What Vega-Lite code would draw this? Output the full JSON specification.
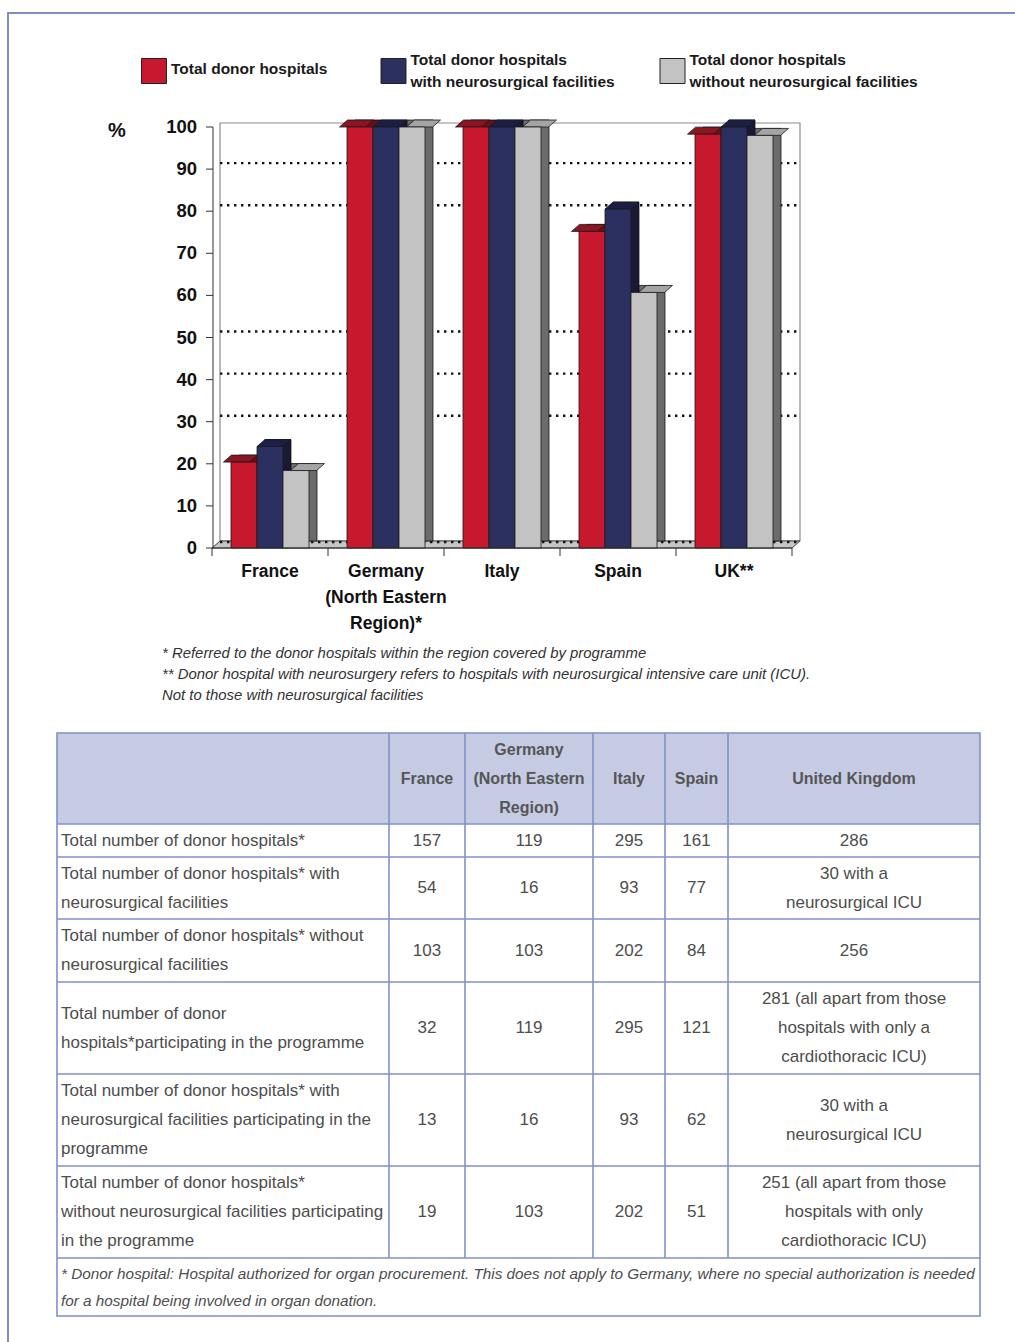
{
  "$schema": "https://vega.github.io/schema/vega-lite/v6.json",
  "description": "Share of donor hospitals participating in the programme, by country, with the underlying hospital counts.",
  "width": 1007,
  "height": 1329,
  "padding": {"left": 8, "top": 13, "right": 0, "bottom": 0},
  "autosize": {"type": "none"},
  "background": "#ffffff",
  "config": {
    "view": {"stroke": "#7d8ec6", "strokeWidth": 2, "strokeDash": [1007, 2336, 1329]},
    "font": "Liberation Sans"
  },
  "datasets": {
    "bars": [
      {"country": "France", "series": "Total donor hospitals", "pct": 20.4},
      {"country": "France", "series": "Total donor hospitals with neurosurgical facilities", "pct": 24.1},
      {"country": "France", "series": "Total donor hospitals without neurosurgical facilities", "pct": 18.4},
      {"country": "Germany (North Eastern Region)*", "series": "Total donor hospitals", "pct": 100},
      {"country": "Germany (North Eastern Region)*", "series": "Total donor hospitals with neurosurgical facilities", "pct": 100},
      {"country": "Germany (North Eastern Region)*", "series": "Total donor hospitals without neurosurgical facilities", "pct": 100},
      {"country": "Italy", "series": "Total donor hospitals", "pct": 100},
      {"country": "Italy", "series": "Total donor hospitals with neurosurgical facilities", "pct": 100},
      {"country": "Italy", "series": "Total donor hospitals without neurosurgical facilities", "pct": 100},
      {"country": "Spain", "series": "Total donor hospitals", "pct": 75.2},
      {"country": "Spain", "series": "Total donor hospitals with neurosurgical facilities", "pct": 80.5},
      {"country": "Spain", "series": "Total donor hospitals without neurosurgical facilities", "pct": 60.7},
      {"country": "UK**", "series": "Total donor hospitals", "pct": 98.3},
      {"country": "UK**", "series": "Total donor hospitals with neurosurgical facilities", "pct": 100},
      {"country": "UK**", "series": "Total donor hospitals without neurosurgical facilities", "pct": 98.0}
    ],
    "countries": [
      {"country": "France", "label": "France"},
      {"country": "Germany (North Eastern Region)*", "label": "Germany\n(North Eastern\nRegion)*"},
      {"country": "Italy", "label": "Italy"},
      {"country": "Spain", "label": "Spain"},
      {"country": "UK**", "label": "UK**"}
    ],
    "legendEntries": [
      {"series": "Total donor hospitals", "slot": 0, "label": "Total donor hospitals"},
      {"series": "Total donor hospitals with neurosurgical facilities", "slot": 1, "label": "Total donor hospitals\nwith neurosurgical facilities"},
      {"series": "Total donor hospitals without neurosurgical facilities", "slot": 2, "label": "Total donor hospitals\nwithout neurosurgical facilities"}
    ],
    "frame": [{"top": 100, "base": 0, "unit": "%"}],
    "notes": [{"note": "* Referred to the donor hospitals within the region covered by programme\n** Donor hospital with neurosurgery refers to hospitals with neurosurgical intensive care unit (ICU).\nNot to those with neurosurgical facilities"}],
    "yTicks": [{"v": 0}, {"v": 10}, {"v": 20}, {"v": 30}, {"v": 40}, {"v": 50}, {"v": 60}, {"v": 70}, {"v": 80}, {"v": 90}, {"v": 100}],
    "gridLevels": [{"level": 0}, {"level": 30}, {"level": 40}, {"level": 50}, {"level": 80}, {"level": 90}],
    "rowEdges": [{"e": 0.5}, {"e": 1.5}, {"e": 2.5}, {"e": 3.5}, {"e": 4.5}, {"e": 5.5}, {"e": 6.5}],
    "colEdges": [{"e": 0.5}, {"e": 1.5}, {"e": 2.5}, {"e": 3.5}, {"e": 4.5}],
    "table": [
      {"r": 0, "c": 1, "t": "France"},
      {"r": 0, "c": 2, "t": "Germany\n(North Eastern\nRegion)"},
      {"r": 0, "c": 3, "t": "Italy"},
      {"r": 0, "c": 4, "t": "Spain"},
      {"r": 0, "c": 5, "t": "United Kingdom"},
      {"r": 1, "c": 0, "t": "Total number of donor hospitals*"},
      {"r": 1, "c": 1, "t": "157"},
      {"r": 1, "c": 2, "t": "119"},
      {"r": 1, "c": 3, "t": "295"},
      {"r": 1, "c": 4, "t": "161"},
      {"r": 1, "c": 5, "t": "286"},
      {"r": 2, "c": 0, "t": "Total number of donor hospitals* with\nneurosurgical facilities"},
      {"r": 2, "c": 1, "t": "54"},
      {"r": 2, "c": 2, "t": "16"},
      {"r": 2, "c": 3, "t": "93"},
      {"r": 2, "c": 4, "t": "77"},
      {"r": 2, "c": 5, "t": "30 with a\nneurosurgical ICU"},
      {"r": 3, "c": 0, "t": "Total number of donor hospitals* without\nneurosurgical facilities"},
      {"r": 3, "c": 1, "t": "103"},
      {"r": 3, "c": 2, "t": "103"},
      {"r": 3, "c": 3, "t": "202"},
      {"r": 3, "c": 4, "t": "84"},
      {"r": 3, "c": 5, "t": "256"},
      {"r": 4, "c": 0, "t": "Total number of donor\nhospitals*participating in the programme"},
      {"r": 4, "c": 1, "t": "32"},
      {"r": 4, "c": 2, "t": "119"},
      {"r": 4, "c": 3, "t": "295"},
      {"r": 4, "c": 4, "t": "121"},
      {"r": 4, "c": 5, "t": "281 (all apart from those\nhospitals with only a\ncardiothoracic ICU)"},
      {"r": 5, "c": 0, "t": "Total number of donor hospitals* with\nneurosurgical facilities participating in the\nprogramme"},
      {"r": 5, "c": 1, "t": "13"},
      {"r": 5, "c": 2, "t": "16"},
      {"r": 5, "c": 3, "t": "93"},
      {"r": 5, "c": 4, "t": "62"},
      {"r": 5, "c": 5, "t": "30 with a\nneurosurgical ICU"},
      {"r": 6, "c": 0, "t": "Total number of donor hospitals*\nwithout neurosurgical facilities participating\nin the programme"},
      {"r": 6, "c": 1, "t": "19"},
      {"r": 6, "c": 2, "t": "103"},
      {"r": 6, "c": 3, "t": "202"},
      {"r": 6, "c": 4, "t": "51"},
      {"r": 6, "c": 5, "t": "251 (all apart from those\nhospitals with only\ncardiothoracic ICU)"},
      {"r": 7, "c": 0, "t": "* Donor hospital: Hospital authorized for organ procurement. This does not apply to Germany, where no special authorization is needed\nfor a hospital being involved in organ donation."}
    ]
  },
  "layer": [
    {
      "layer": [
        {
          "data": {"name": "frame"},
          "mark": {"type": "rect", "fill": "#ffffff", "stroke": "#8c8c8c", "strokeWidth": 1.2, "xOffset": 8, "x2Offset": 8, "yOffset": -4, "y2Offset": -7},
          "encoding": {
            "x": {"datum": "France", "bandPosition": 0, "type": "nominal", "axis": null,
              "scale": {"domain": ["France", "Germany (North Eastern Region)*", "Italy", "Spain", "UK**"], "range": [204, 784], "paddingInner": 0, "paddingOuter": 0}},
            "x2": {"datum": "UK**", "bandPosition": 1},
            "y": {"field": "top", "type": "quantitative", "axis": null, "scale": {"domain": [0, 100], "range": [535, 114], "nice": false, "zero": false}},
            "y2": {"field": "base"}
          }
        },
        {
          "data": {"name": "frame"},
          "mark": {"type": "point", "shape": "M-0.9667,0L0.9667,0L0.9933,-0.0233L-0.94,-0.0233Z", "size": 360000, "filled": true, "fill": "#c6c6c6", "stroke": "#444444", "strokeWidth": 1, "opacity": 1},
          "encoding": {
            "x": {"datum": "Italy", "type": "nominal", "axis": null},
            "y": {"field": "base", "type": "quantitative", "axis": null}
          }
        },
        {
          "data": {"name": "gridLevels"},
          "mark": {"type": "rule", "color": "#111111", "strokeWidth": 2.4, "strokeDash": [2.4, 4.6], "xOffset": 8, "x2Offset": 8, "yOffset": -6},
          "encoding": {
            "x": {"datum": "France", "bandPosition": 0, "type": "nominal", "axis": null},
            "x2": {"datum": "UK**", "bandPosition": 1},
            "y": {"field": "level", "type": "quantitative", "axis": null}
          }
        },
        {
          "data": {"name": "bars"},
          "mark": {"type": "bar", "yOffset": -7, "y2Offset": -7, "stroke": "#1a1a1a", "strokeWidth": 0.8},
          "encoding": {
            "x": {"field": "country", "type": "nominal", "axis": null},
            "xOffset": {"field": "series", "type": "nominal", "scale": {"paddingInner": 0, "paddingOuter": 0.7308, "align": 0.7105}},
            "y": {"field": "pct", "type": "quantitative", "axis": null},
            "color": {"field": "series", "type": "nominal", "legend": null,
              "scale": {"domain": ["Total donor hospitals", "Total donor hospitals with neurosurgical facilities", "Total donor hospitals without neurosurgical facilities"], "range": ["#c8182e", "#2c3061", "#c3c3c3"]}}
          }
        },
        {
          "data": {"name": "bars"},
          "mark": {"type": "bar", "yOffset": -7, "y2Offset": -7, "fill": "#000000", "fillOpacity": 0.45},
          "encoding": {
            "x": {"field": "country", "type": "nominal", "axis": null},
            "xOffset": {"field": "series", "type": "nominal", "scale": {"paddingInner": 0, "paddingOuter": 0.7308, "align": 0.7105}},
            "y": {"field": "pct", "type": "quantitative", "axis": null}
          }
        },
        {
          "data": {"name": "bars"},
          "mark": {"type": "point", "shape": "M-0.619,0L0.619,0L1,-0.333L-0.238,-0.333Z", "size": 1764, "filled": true, "opacity": 1, "stroke": "#1a1a1a", "strokeWidth": 0.8},
          "encoding": {
            "x": {"field": "country", "type": "nominal", "axis": null},
            "xOffset": {"field": "series", "type": "nominal", "scale": {"paddingInner": 0, "paddingOuter": 0.7308, "align": 0.5}},
            "y": {"field": "pct", "type": "quantitative", "axis": null},
            "fill": {"field": "series", "type": "nominal", "legend": null,
              "scale": {"domain": ["Total donor hospitals", "Total donor hospitals with neurosurgical facilities", "Total donor hospitals without neurosurgical facilities"], "range": ["#8c1522", "#1c1f45", "#a4a4a4"]}}
          }
        },
        {
          "data": {"name": "bars"},
          "mark": {"type": "bar", "stroke": "#1a1a1a", "strokeWidth": 0.8},
          "encoding": {
            "x": {"field": "country", "type": "nominal", "axis": null},
            "xOffset": {"field": "series", "type": "nominal", "scale": {"paddingInner": 0, "paddingOuter": 0.7308, "align": 0.5}},
            "y": {"field": "pct", "type": "quantitative", "axis": null},
            "color": {"field": "series", "type": "nominal", "legend": null}
          }
        },
        {
          "data": {"name": "frame"},
          "mark": {"type": "rule", "color": "#333333", "strokeWidth": 1, "xOffset": 1},
          "encoding": {
            "x": {"datum": "France", "bandPosition": 0, "type": "nominal", "axis": null},
            "y": {"field": "base", "type": "quantitative", "axis": null},
            "y2": {"field": "top"}
          }
        },
        {
          "data": {"name": "frame"},
          "mark": {"type": "rule", "color": "#333333", "strokeWidth": 1},
          "encoding": {
            "x": {"datum": "France", "bandPosition": 0, "type": "nominal", "axis": null},
            "x2": {"datum": "UK**", "bandPosition": 1},
            "y": {"field": "base", "type": "quantitative", "axis": null}
          }
        },
        {
          "data": {"name": "yTicks"},
          "mark": {"type": "rule", "color": "#333333", "strokeWidth": 1, "xOffset": 1, "x2Offset": -6},
          "encoding": {
            "x": {"datum": "France", "bandPosition": 0, "type": "nominal", "axis": null},
            "x2": {"datum": "France", "bandPosition": 0},
            "y": {"field": "v", "type": "quantitative", "axis": null}
          }
        },
        {
          "data": {"name": "yTicks"},
          "mark": {"type": "text", "fontWeight": "bold", "fontSize": 18.5, "color": "#111111", "align": "right", "baseline": "middle", "dx": -15},
          "encoding": {
            "x": {"datum": "France", "bandPosition": 0, "type": "nominal", "axis": null},
            "y": {"field": "v", "type": "quantitative", "axis": null},
            "text": {"field": "v", "type": "quantitative"}
          }
        },
        {
          "data": {"name": "countries"},
          "mark": {"type": "rule", "color": "#333333", "strokeWidth": 1, "y2Offset": 8},
          "encoding": {
            "x": {"field": "country", "bandPosition": 1, "type": "nominal", "axis": null},
            "y": {"datum": 0, "type": "quantitative", "axis": null},
            "y2": {"datum": 0}
          }
        },
        {
          "data": {"name": "frame"},
          "mark": {"type": "rule", "color": "#333333", "strokeWidth": 1, "y2Offset": 8},
          "encoding": {
            "x": {"datum": "France", "bandPosition": 0, "type": "nominal", "axis": null},
            "y": {"field": "base", "type": "quantitative", "axis": null},
            "y2": {"field": "base"}
          }
        },
        {
          "data": {"name": "countries"},
          "mark": {"type": "text", "fontWeight": "bold", "fontSize": 17.5, "color": "#111111", "align": "center", "baseline": "middle", "dy": 24, "lineBreak": "\n", "lineHeight": 26},
          "encoding": {
            "x": {"field": "country", "type": "nominal", "axis": null},
            "y": {"datum": 0, "type": "quantitative", "axis": null},
            "text": {"field": "label", "type": "nominal"}
          }
        },
        {
          "data": {"name": "frame"},
          "mark": {"type": "text", "fontWeight": "bold", "fontSize": 20, "color": "#111111", "align": "center", "baseline": "middle", "dx": -95, "dy": 4},
          "encoding": {
            "x": {"datum": "France", "bandPosition": 0, "type": "nominal", "axis": null},
            "y": {"field": "top", "type": "quantitative", "axis": null},
            "text": {"field": "unit", "type": "nominal"}
          }
        },
        {
          "data": {"name": "notes"},
          "mark": {"type": "text", "fontStyle": "italic", "fontSize": 14.9, "color": "#333333", "align": "left", "baseline": "middle", "dx": -50, "dy": 106, "lineBreak": "\n", "lineHeight": 21},
          "encoding": {
            "x": {"datum": "France", "bandPosition": 0, "type": "nominal", "axis": null},
            "y": {"datum": 0, "type": "quantitative", "axis": null},
            "text": {"field": "note", "type": "nominal"}
          }
        }
      ],
      "resolve": {"scale": {"xOffset": "independent"}}
    },
    {
      "layer": [
        {
          "data": {"name": "legendEntries"},
          "mark": {"type": "point", "shape": "square", "size": 625, "filled": true, "opacity": 1, "stroke": "#222222", "strokeWidth": 1},
          "encoding": {
            "x": {"field": "slot", "type": "quantitative", "axis": null, "scale": {"domain": [0, 1, 2], "range": [146, 385.5, 664.5], "nice": false, "zero": false}},
            "y": {"datum": 0, "type": "quantitative", "axis": null, "scale": {"domain": [0, 1], "range": [58, 80], "nice": false, "zero": false}},
            "color": {"field": "series", "type": "nominal", "legend": null}
          }
        },
        {
          "data": {"name": "legendEntries"},
          "transform": [{"filter": "indexof(datum.label, '\\n') < 0"}],
          "mark": {"type": "text", "fontWeight": "bold", "fontSize": 15.5, "color": "#1a1a1a", "align": "left", "baseline": "middle", "dx": 17, "dy": -2},
          "encoding": {
            "x": {"field": "slot", "type": "quantitative", "axis": null},
            "y": {"datum": 0, "type": "quantitative", "axis": null},
            "text": {"field": "label", "type": "nominal"}
          }
        },
        {
          "data": {"name": "legendEntries"},
          "transform": [{"filter": "indexof(datum.label, '\\n') >= 0"}],
          "mark": {"type": "text", "fontWeight": "bold", "fontSize": 15.5, "color": "#1a1a1a", "align": "left", "baseline": "middle", "dx": 17, "dy": -11, "lineBreak": "\n", "lineHeight": 22},
          "encoding": {
            "x": {"field": "slot", "type": "quantitative", "axis": null},
            "y": {"datum": 0, "type": "quantitative", "axis": null},
            "text": {"field": "label", "type": "nominal"}
          }
        }
      ]
    },
    {
      "layer": [
        {
          "data": {"name": "frame"},
          "mark": {"type": "rect", "fill": "#c6cbe4"},
          "encoding": {
            "x": {"datum": -0.5, "type": "quantitative", "axis": null,
              "scale": {"domain": [-0.5, 0.5, 1.5, 2.5, 3.5, 4.5, 5.5], "range": [49, 381, 457, 585, 657, 720, 972], "nice": false, "zero": false}},
            "x2": {"datum": 5.5},
            "y": {"datum": -0.5, "type": "quantitative", "axis": null,
              "scale": {"domain": [-0.5, 0.5, 1.5, 2.5, 3.5, 4.5, 5.5, 6.5, 7.5], "range": [720, 811, 844, 906, 969, 1061, 1153, 1245, 1303], "nice": false, "zero": false}},
            "y2": {"datum": 0.5}
          }
        },
        {
          "data": {"name": "rowEdges"},
          "mark": {"type": "rule", "color": "#8190c8", "strokeWidth": 1.6},
          "encoding": {
            "x": {"datum": -0.5, "type": "quantitative", "axis": null},
            "x2": {"datum": 5.5},
            "y": {"field": "e", "type": "quantitative", "axis": null}
          }
        },
        {
          "data": {"name": "colEdges"},
          "mark": {"type": "rule", "color": "#8190c8", "strokeWidth": 1.6},
          "encoding": {
            "x": {"field": "e", "type": "quantitative", "axis": null},
            "y": {"datum": -0.5, "type": "quantitative", "axis": null},
            "y2": {"datum": 6.5}
          }
        },
        {
          "data": {"name": "frame"},
          "mark": {"type": "rect", "fillOpacity": 0, "stroke": "#8190c8", "strokeWidth": 1.6},
          "encoding": {
            "x": {"datum": -0.5, "type": "quantitative", "axis": null},
            "x2": {"datum": 5.5},
            "y": {"datum": -0.5, "type": "quantitative", "axis": null},
            "y2": {"datum": 7.5}
          }
        },
        {
          "data": {"name": "table"},
          "transform": [{"filter": "datum.r == 0 && indexof(datum.t, '\\n') < 0"}],
          "mark": {"type": "text", "fontWeight": "bold", "fontSize": 16, "color": "#555555", "align": "center", "baseline": "middle"},
          "encoding": {
            "x": {"field": "c", "type": "quantitative", "axis": null},
            "y": {"field": "r", "type": "quantitative", "axis": null},
            "text": {"field": "t", "type": "nominal"}
          }
        },
        {
          "data": {"name": "table"},
          "transform": [{"filter": "datum.r == 0 && indexof(datum.t, '\\n') >= 0"}],
          "mark": {"type": "text", "fontWeight": "bold", "fontSize": 16, "color": "#555555", "align": "center", "baseline": "middle", "lineBreak": "\n", "lineHeight": 29, "dy": -29},
          "encoding": {
            "x": {"field": "c", "type": "quantitative", "axis": null},
            "y": {"field": "r", "type": "quantitative", "axis": null},
            "text": {"field": "t", "type": "nominal"}
          }
        },
        {
          "data": {"name": "table"},
          "transform": [{"filter": "datum.r >= 1 && datum.r <= 6 && datum.c >= 1 && length(split(datum.t, '\\n')) == 1"}],
          "mark": {"type": "text", "fontSize": 17, "color": "#4d4d4d", "align": "center", "baseline": "middle"},
          "encoding": {
            "x": {"field": "c", "type": "quantitative", "axis": null},
            "y": {"field": "r", "type": "quantitative", "axis": null},
            "text": {"field": "t", "type": "nominal"}
          }
        },
        {
          "data": {"name": "table"},
          "transform": [{"filter": "datum.r >= 1 && datum.r <= 6 && datum.c >= 1 && length(split(datum.t, '\\n')) == 2"}],
          "mark": {"type": "text", "fontSize": 17, "color": "#4d4d4d", "align": "center", "baseline": "middle", "lineBreak": "\n", "lineHeight": 29, "dy": -14.5},
          "encoding": {
            "x": {"field": "c", "type": "quantitative", "axis": null},
            "y": {"field": "r", "type": "quantitative", "axis": null},
            "text": {"field": "t", "type": "nominal"}
          }
        },
        {
          "data": {"name": "table"},
          "transform": [{"filter": "datum.r >= 1 && datum.r <= 6 && datum.c >= 1 && length(split(datum.t, '\\n')) == 3"}],
          "mark": {"type": "text", "fontSize": 17, "color": "#4d4d4d", "align": "center", "baseline": "middle", "lineBreak": "\n", "lineHeight": 29, "dy": -29},
          "encoding": {
            "x": {"field": "c", "type": "quantitative", "axis": null},
            "y": {"field": "r", "type": "quantitative", "axis": null},
            "text": {"field": "t", "type": "nominal"}
          }
        },
        {
          "data": {"name": "table"},
          "transform": [{"filter": "datum.r >= 1 && datum.r <= 6 && datum.c == 0 && length(split(datum.t, '\\n')) == 1"}],
          "mark": {"type": "text", "fontSize": 17, "color": "#4d4d4d", "align": "left", "baseline": "middle", "dx": 4},
          "encoding": {
            "x": {"datum": -0.5, "type": "quantitative", "axis": null},
            "y": {"field": "r", "type": "quantitative", "axis": null},
            "text": {"field": "t", "type": "nominal"}
          }
        },
        {
          "data": {"name": "table"},
          "transform": [{"filter": "datum.r >= 1 && datum.r <= 6 && datum.c == 0 && length(split(datum.t, '\\n')) == 2"}],
          "mark": {"type": "text", "fontSize": 17, "color": "#4d4d4d", "align": "left", "baseline": "middle", "dx": 4, "lineBreak": "\n", "lineHeight": 29, "dy": -14.5},
          "encoding": {
            "x": {"datum": -0.5, "type": "quantitative", "axis": null},
            "y": {"field": "r", "type": "quantitative", "axis": null},
            "text": {"field": "t", "type": "nominal"}
          }
        },
        {
          "data": {"name": "table"},
          "transform": [{"filter": "datum.r >= 1 && datum.r <= 6 && datum.c == 0 && length(split(datum.t, '\\n')) == 3"}],
          "mark": {"type": "text", "fontSize": 17, "color": "#4d4d4d", "align": "left", "baseline": "middle", "dx": 4, "lineBreak": "\n", "lineHeight": 29, "dy": -29},
          "encoding": {
            "x": {"datum": -0.5, "type": "quantitative", "axis": null},
            "y": {"field": "r", "type": "quantitative", "axis": null},
            "text": {"field": "t", "type": "nominal"}
          }
        },
        {
          "data": {"name": "table"},
          "transform": [{"filter": "datum.r == 7"}],
          "mark": {"type": "text", "fontSize": 15.3, "fontStyle": "italic", "color": "#4d4d4d", "align": "left", "baseline": "middle", "dx": 4, "lineBreak": "\n", "lineHeight": 27, "dy": -13.5},
          "encoding": {
            "x": {"datum": -0.5, "type": "quantitative", "axis": null},
            "y": {"field": "r", "type": "quantitative", "axis": null},
            "text": {"field": "t", "type": "nominal"}
          }
        }
      ]
    }
  ],
  "resolve": {"scale": {"x": "independent", "y": "independent"}}
}
